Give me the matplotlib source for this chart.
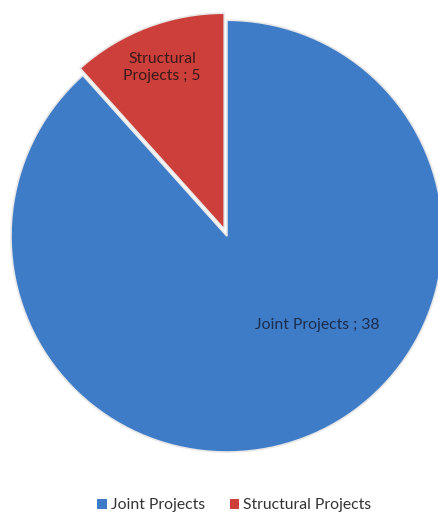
import matplotlib
matplotlib.use("Agg")
import matplotlib.pyplot as plt
from matplotlib.patches import Patch

categories = ["Joint Projects", "Structural Projects"]
values = [38, 5]
colors = ["#3f7cc8", "#cc3f3a"]
explode = [0.0, 0.035]

plt.rcParams["font.family"] = ["Lato", "DejaVu Sans"]

fig = plt.figure(figsize=(4.38, 5.14), dpi=100)
ax = fig.add_axes([0.0251, 0.1206, 0.986, 0.840])

wedges, _ = ax.pie(values, colors=colors, explode=explode, startangle=90,
                   counterclock=False, radius=1.0,
                   wedgeprops=dict(edgecolor="#e8e8e8", linewidth=1.2))
ax.set_xlim(-1, 1)
ax.set_ylim(-1, 1)
ax.set_aspect("auto")
ax.axis("off")

ax.text(0.42, -0.41, f"{categories[0]} ; {values[0]}", ha="center", va="center",
        fontsize=11.3, color="#1c2c4c")
ax.text(-0.30, 0.78, f"Structural\nProjects ; {values[1]}", ha="center", va="center",
        fontsize=11.3, color="#3a1a1a", linespacing=1.25)

handles = [Patch(facecolor=c, edgecolor="none") for c in colors]
fig.legend(handles, categories, loc="center", bbox_to_anchor=(0.535, 0.017),
           ncol=2, frameon=False, fontsize=11.3, handlelength=0.6, handleheight=0.6,
           handletextpad=0.25, columnspacing=1.6, labelcolor="#333333")

fig.savefig("out.png", dpi=100, facecolor="white")
